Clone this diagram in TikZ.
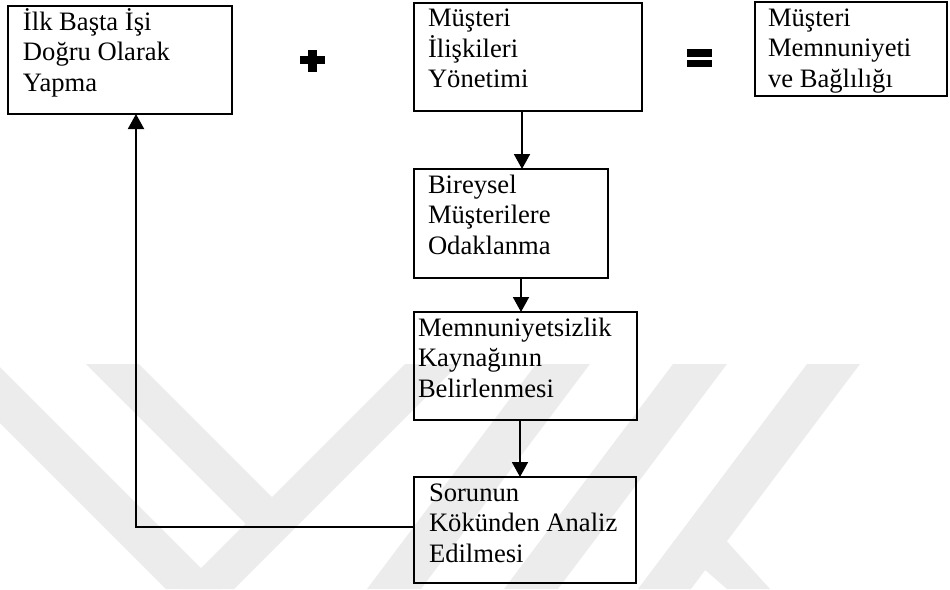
\documentclass[tikz,border=0pt]{standalone}
\usepackage{fontspec}
\setmainfont{Liberation Serif}
\usetikzlibrary{arrows.meta,positioning}

\definecolor{filigran}{gray}{0.925}
\newcommand{\kutumetin}[2]{\parbox[t]{#1}{\raggedright #2}}

\begin{document}
\begin{tikzpicture}[x=1pt,y=-1pt,>={Triangle[length=15pt,width=16pt]},line width=1.9pt]
  \tikzstyle{kutu}=[draw=black,outer sep=0pt,inner ysep=0pt,anchor=north west,
    text height=24pt,font=\fontsize{26.6pt}{30.5pt}\selectfont]
  \tikzstyle{ok}=[->,line width=1.9pt]
  \useasboundingbox (0,0) rectangle (950,589);

  % faint watermark in the background
  \begin{scope}
    \clip (0,364) rectangle (950,589);
    \fill[filigran] (-59,364) -- (-3,364) -- (222,589) -- (166,589) -- cycle;
    \fill[filigran] (86,364) -- (139,364) -- (272,497) -- (272.5,550.5) -- cycle;
    \fill[filigran] (405,364) -- (459,364) -- (234,589) -- (180,589) -- cycle;
    \fill[filigran] (536,364) -- (590,364) -- (421,589) -- (367,589) -- cycle;
    \fill[filigran] (673,364) -- (727,364) -- (558,589) -- (504,589) -- cycle;
    \fill[filigran] (807,364) -- (860,364) -- (691,589) -- (638,589) -- cycle;
    \fill[filigran] (703,515) -- (770,589) -- (727,589) -- (673,542) -- cycle;
  \end{scope}

  \node[kutu,inner xsep=15pt,text depth=84pt] (ilk) at (8,6)
    {\kutumetin{194pt}{İlk Başta İşi\\Doğru Olarak\\Yapma}};
  \node[kutu,inner xsep=14pt,text depth=84pt] (iliski) at (414,3)
    {\kutumetin{200pt}{Müşteri\\İlişkileri\\Yönetimi}};
  \node[kutu,inner xsep=13pt,text depth=70pt] (memnuniyet) at (755,2)
    {\kutumetin{166pt}{Müşteri\\Memnuniyeti\\ve Bağlılığı}};
  \node[kutu,inner xsep=14pt,text depth=85pt] (bireysel)
    [below=58pt of iliski.south west, anchor=north west]
    {\kutumetin{166pt}{Bireysel\\Müşterilere\\Odaklanma}};
  \node[kutu,inner xsep=4pt,text depth=84pt] (kaynak)
    [below=34pt of bireysel.south west, anchor=north west]
    {\kutumetin{215pt}{Memnuniyetsizlik\\Kaynağının\\Belirlenmesi}};
  \node[kutu,inner xsep=15pt,text depth=82pt] (sorun)
    [below=57pt of kaynak.south west, anchor=north west]
    {\kutumetin{192pt}{Sorunun\\Kökünden Analiz\\Edilmesi}};

  % plus and equals signs
  \fill (308,50) rectangle (317,72);
  \fill (300,56) rectangle (325,64);
  \fill (687,49) rectangle (712,57);
  \fill (687,60) rectangle (712,67);

  \coordinate (o1) at ([xshift=-6pt]iliski.south);
  \coordinate (o2) at ([xshift=10pt]bireysel.south);
  \coordinate (o3) at ([xshift=-5.5pt]kaynak.south);
  \draw[ok] (o1) -- (o1 |- bireysel.north);
  \draw[ok] (o2) -- (o2 |- kaynak.north);
  \draw[ok] (o3) -- (o3 |- sorun.north);
  \draw[ok] ([yshift=3pt]sorun.west) -| ([xshift=16pt]ilk.south);
\end{tikzpicture}
\end{document}
